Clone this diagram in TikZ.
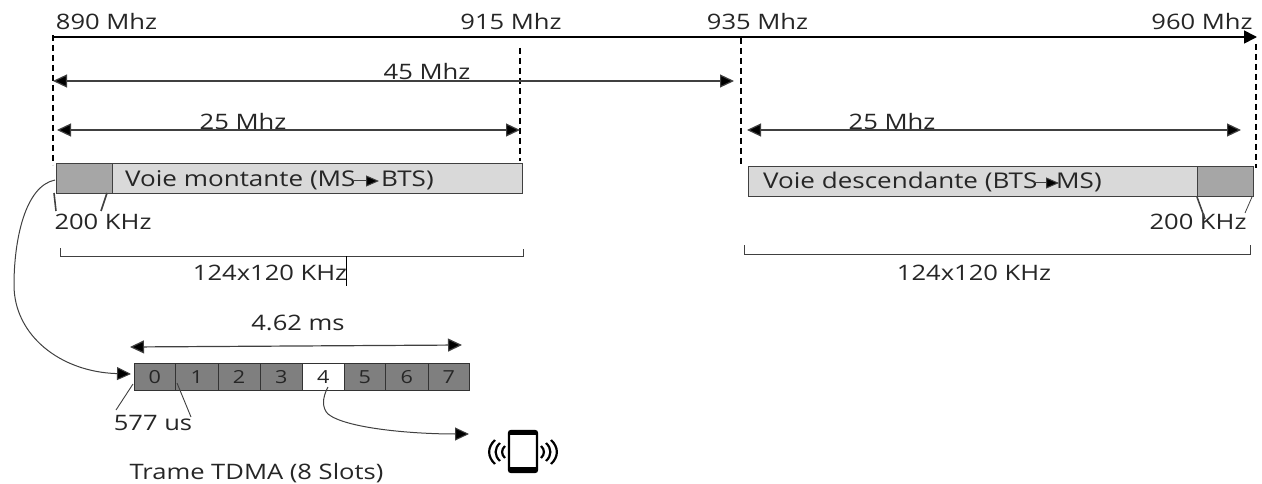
\documentclass[tikz,border=0pt]{standalone}
\usepackage{fontspec}
\setmainfont[FakeStretch=1.2]{Open Sans}
\usetikzlibrary{arrows.meta}
\definecolor{ink}{HTML}{262626}
\definecolor{edge}{HTML}{404040}
\definecolor{light}{HTML}{D9D9D9}
\definecolor{mid}{HTML}{A6A6A6}
\definecolor{slot}{HTML}{7F7F7F}
\tikzset{
  lbl/.style={inner sep=0pt,text=ink,font=\fontsize{21.7}{24}\selectfont},
  lblb/.style={inner sep=0pt,text=ink,font=\fontsize{21.3}{24}\selectfont},
  dim/.style={draw=edge,line width=1.2pt,{Triangle[length=14pt,width=13pt,fill=black]}-{Triangle[length=14pt,width=13pt,fill=black]}},
  oneway/.style={draw=edge,line width=1pt,-{Triangle[length=14pt,width=13pt,fill=black]}},
  guide/.style={draw=black,line width=2pt,dash pattern=on 6pt off 4pt},
  barbox/.style={draw=edge,line width=1.2pt,fill=light,minimum height=30pt,inner sep=0pt,anchor=north west},
  bandbox/.style={draw=edge,line width=1.2pt,fill=mid,minimum height=30pt,inner sep=0pt,anchor=north west},
  slotbox/.style={draw=black!80,line width=1pt,fill=slot,minimum height=27pt,inner sep=0pt,anchor=north west,text=ink,font=\fontsize{18}{22}\selectfont},
  tick/.style={draw=edge,line width=1.6pt},
  brk/.style={draw=edge,line width=1pt},
  wave/.style={draw=black,line width=2.2pt}
}
\begin{document}
\begin{tikzpicture}[x=1pt,y=-1pt]
\useasboundingbox (0,0) rectangle (1262,484);
% axis
\coordinate (a0) at (53,37);
\coordinate (a1) at (1257,37);
\draw[draw=black,line width=1.7pt,-{Triangle[length=13pt,width=13pt,fill=black]}] (a0) -- (a1);
% guides
\coordinate (g1t) at (53,35); \coordinate (g1b) at (53,165);
\coordinate (g2t) at (520,48); \coordinate (g2b) at (520,161);
\coordinate (g3t) at (740.5,38); \coordinate (g3b) at (740.5,167);
\coordinate (g4t) at (1256,44); \coordinate (g4b) at (1256,168);
\draw[guide] (g1t) -- (g1b);
\draw[guide] (g2t) -- (g2b);
\draw[guide] (g3t) -- (g3b);
\draw[guide] (g4t) -- (g4b);
% frequency labels
\node[lblb] (f890) at (106.5,22) {890 Mhz};
\node[lblb] (f915) at (511,22) {915 Mhz};
\node[lblb] (f935) at (757.5,22) {935 Mhz};
\node[lblb] (f960) at (1202,22) {960 Mhz};
% dims
\coordinate (d45a) at (53,81); \coordinate (d45b) at (734,81);
\draw[dim] (d45a) -- (d45b);
\node[lblb] (t45) at (427,72) {45 Mhz};
\node[lblb] (t25a) at (243,122) {25 Mhz};
\node[lblb] (t25b) at (892,122) {25 Mhz};
\coordinate (d25aa) at (57,130); \coordinate (d25ab) at (520,130);
\draw[dim] (d25aa) -- (d25ab);
\coordinate (d25ba) at (747,130); \coordinate (d25bb) at (1241,130);
\draw[dim] (d25ba) -- (d25bb);
% bars
\node[barbox,minimum width=466pt] (upbar) at (56,163) {};
\node[bandbox,minimum width=56pt] (upband) at (56,163) {};
\node[lbl,anchor=west] (uptxt) at (125,180) {Voie montante (MS};
\node[lbl,anchor=west] (uptxt2) at (381,180) {BTS)};
\coordinate (upa1) at (354,181); \coordinate (upa2) at (379,181);
\draw[draw=edge,line width=1pt,-{Triangle[length=13pt,width=11pt,fill=black]}] (upa1) -- (upa2);
\node[barbox,minimum width=505pt] (dnbar) at (748,166) {};
\node[bandbox,minimum width=56pt] (dnband) at (1197,166) {};
\node[lbl,anchor=west] (dntxt) at (763,182) {Voie descendante (BTS};
\node[lbl,anchor=west] (dntxt2) at (1056,182) {MS)};
\coordinate (dna1) at (1034,183); \coordinate (dna2) at (1059,183);
\draw[draw=edge,line width=1pt,-{Triangle[length=13pt,width=11pt,fill=black]}] (dna1) -- (dna2);
% 200 KHz
\node[lblb] (k1) at (103,222) {200 KHz};
\node[lblb] (k2) at (1198,222) {200 KHz};
\coordinate (t1a) at (54,193); \coordinate (t1b) at (56,211);
\coordinate (t2a) at (107,193); \coordinate (t2b) at (101,211);
\coordinate (t3a) at (1197,197); \coordinate (t3b) at (1205,219);
\coordinate (t4a) at (1252,197); \coordinate (t4b) at (1245,213);
\draw[tick] (t1a) -- (t1b);
\draw[tick] (t2a) -- (t2b);
\draw[tick] (t3a) -- (t3b);
\draw[draw=edge,line width=.8pt] (t4a) -- (t4b);
% brackets
\coordinate (b1a) at (60,248); \coordinate (b1b) at (60,256);
\coordinate (b1c) at (523,256); \coordinate (b1d) at (523,249);
\draw[brk] (b1a) -- (b1b) -- (b1c) -- (b1d);
\coordinate (b2a) at (744,245); \coordinate (b2b) at (744,254);
\coordinate (b2c) at (1250,254); \coordinate (b2d) at (1250,245);
\draw[brk] (b2a) -- (b2b) -- (b2c) -- (b2d);
\node[lblb] (w1) at (270,273) {124x120 KHz};
\node[lblb] (w2) at (974,273) {124x120 KHz};
\coordinate (cur1) at (346.5,256); \coordinate (cur2) at (346.5,286);
\draw[draw=black,line width=.8pt] (cur1) -- (cur2);
% TDMA
\node[lblb] (tms) at (298,323) {4.62 ms};
\coordinate (dtaa) at (130,347); \coordinate (dtab) at (462,345);
\draw[dim] (dtaa) -- (dtab);
\node[slotbox,minimum width=41.5pt] (s0) at (133.5,363) {0};
\node[slotbox,minimum width=42.5pt] (s1) at (175,363) {1};
\node[slotbox,minimum width=42pt] (s2) at (217.5,363) {2};
\node[slotbox,minimum width=42.5pt] (s3) at (259.5,363) {3};
\node[slotbox,minimum width=41.5pt,fill=white] (s4) at (302,363) {4};
\node[slotbox,minimum width=41.5pt] (s5) at (343.5,363) {5};
\node[slotbox,minimum width=42.5pt] (s6) at (385,363) {6};
\node[slotbox,minimum width=41.5pt] (s7) at (427.5,363) {7};
\node[lblb] (us) at (153,423) {577 us};
\coordinate (u1a) at (133,384); \coordinate (u1b) at (116,410);
\coordinate (u2a) at (177,383); \coordinate (u2b) at (191,417);
\draw[draw=edge,line width=.9pt] (u1a) -- (u1b);
\draw[draw=edge,line width=.9pt] (u2a) -- (u2b);
\node[lblb] (trame) at (256.5,473) {Trame TDMA (8 Slots)};
% curves
\coordinate (c1a) at (55,180); \coordinate (c1b) at (131,374);
\draw[oneway] (c1a) .. controls (25,186) and (14,240) .. (14,285) .. controls (14,335) and (60,372) .. (c1b);
\coordinate (c2a) at (328,387); \coordinate (c2b) at (469,434);
\draw[oneway] (c2a) .. controls (322,398) and (322,408) .. (328,414) .. controls (345,428) and (410,434) .. (c2b);
% phone
\node[draw=black,line width=2.2pt,rounded corners=2pt,minimum width=28pt,minimum height=41pt,inner sep=0pt] (phone) at (523,451.5) {};
\coordinate (pt1) at (509,433.5); \coordinate (pt2) at (537,433.5);
\coordinate (pb1) at (509,469); \coordinate (pb2) at (537,469);
\draw[draw=black,line width=3pt] (pt1) -- (pt2);
\draw[draw=black,line width=4pt] (pb1) -- (pb2);
\foreach \r/\h in {505/6,500/9,495/12}{
  \draw[wave] (\r,452-\h) .. controls (\r-0.65*\h,452-0.4*\h) and (\r-0.65*\h,452+0.4*\h) .. (\r,452+\h);
}
\foreach \r/\h in {541/6,546/9,551/12}{
  \draw[wave] (\r,452-\h) .. controls (\r+0.65*\h,452-0.4*\h) and (\r+0.65*\h,452+0.4*\h) .. (\r,452+\h);
}
\end{tikzpicture}
\end{document}
